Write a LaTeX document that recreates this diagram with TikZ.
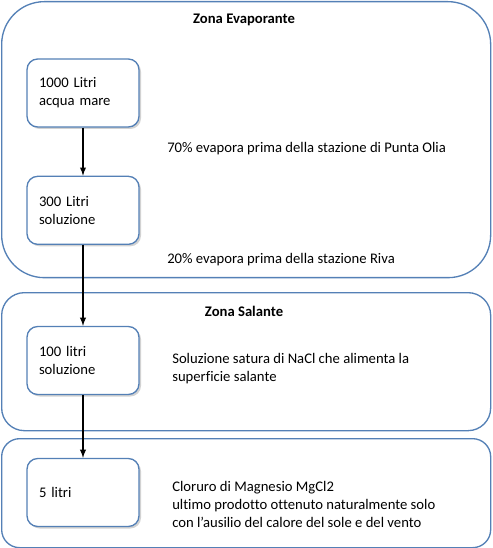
\documentclass[tikz,border=0pt]{standalone}
\usepackage{fontspec}
\setmainfont[Ligatures=NoCommon]{Carlito}
\usetikzlibrary{shapes, arrows, positioning, shadows}

\definecolor{zoneblue}{RGB}{84,128,182}

\begin{document}
\begin{tikzpicture}[
		x=0.75pt, y=-0.75pt,
		font=\fontsize{11}{13.5}\selectfont,
		>=latex,
		node distance=36pt,
		zone/.style={rectangle, draw=zoneblue, line width=1pt, minimum width=366.75pt, anchor=north west, inner sep=0pt},
		box/.style={rectangle, draw=zoneblue, line width=1pt, fill=white, rounded corners=8pt, minimum width=84pt, minimum height=51pt, text width=66pt, inner xsep=9pt, align=left,
			drop shadow={shadow xshift=1.5pt, shadow yshift=-1.5pt, fill=black!35}},
		note/.style={anchor=west, align=left, inner sep=0pt}
		]
		\useasboundingbox (0,0) rectangle (492,548);
		
		% Zones
		\node[zone, minimum height=207pt, rounded corners=32pt] (evap) at (1,1) {};
		\node[zone, minimum height=103.5pt, rounded corners=17pt] (sal) at (1,292) {};
		\node[zone, minimum height=81.75pt, rounded corners=13.5pt] (mag) at (1,438) {};
		
		% Titles
		\node[font=\fontsize{11}{13.5}\selectfont\bfseries] (evaptitle) at (244,20) {Zona Evaporante};
		\node[font=\fontsize{11}{13.5}\selectfont\bfseries] (saltitle) at (244,311) {Zona Salante};
		
		% Flow
		\node[box] (mare) at (83,93) {1000 Litri\\acqua mare};
		\node[box, below=36pt of mare] (sol300) {300 Litri\\soluzione};
		\node[box] (sol100) at (83,360.5) {100 litri\\soluzione};
		\node[box] (mgcl) at (83,492.5) {5 litri};
		
		% Notes
		\node[note] (n70) at (167,149) {70\% evapora prima della stazione di Punta Olia};
		\node[note] (n20) at (167,260) {20\% evapora prima della stazione Riva};
		\node[note] (nnacl) at (172,369) {Soluzione satura di NaCl che alimenta la\\superficie salante};
		\node[note] (nmg) at (172,504) {Cloruro di Magnesio MgCl2\\ultimo prodotto ottenuto naturalmente solo\\con l'ausilio del calore del sole e del vento};
		
		% Connect them
		\draw[->, line width=1.1pt] (mare) -- (sol300);
		\draw[->, line width=1.1pt] (sol300) -- (sol100);
		\draw[->, line width=1.1pt] (sol100) -- (mgcl);
	\end{tikzpicture}
\end{document}
